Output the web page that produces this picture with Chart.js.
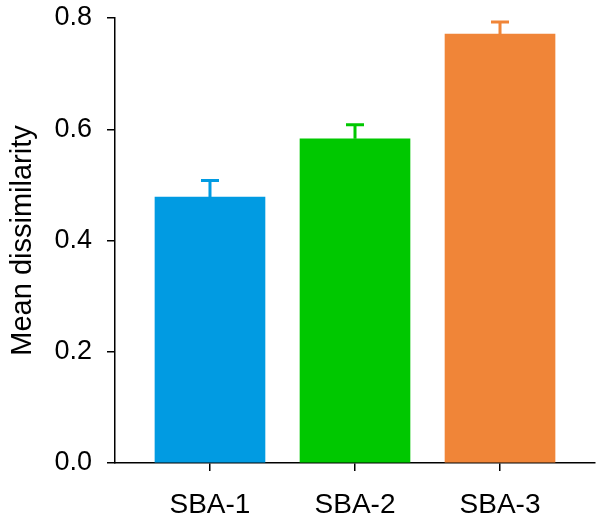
<!DOCTYPE html>
<html>
<head>
<meta charset="utf-8">
<script src="https://cdn.jsdelivr.net/npm/chart.js@4"></script>
<style>
html,body{margin:0;padding:0;background:#fff;}
#wrap{width:602px;height:520px;position:relative;}
</style>
</head>
<body>
<div id="wrap"><canvas id="c" width="602" height="520"></canvas></div>
<script>
const categories = ['SBA-1', 'SBA-2', 'SBA-3'];
const meanValues = [0.478, 0.583, 0.771];
const errorValues = [0.030, 0.025, 0.022];
const barColors = ['#019BE2', '#00C800', '#F08538'];
const yTicks = [0.0, 0.2, 0.4, 0.6, 0.8];
const yTitle = 'Mean dissimilarity';

const FONT = "'Liberation Sans', Arial, sans-serif";

const errorBarPlugin = {
  id: 'errorBars',
  afterDatasetsDraw(chart) {
    const ctx = chart.ctx;
    const xs = chart.scales.x, ys = chart.scales.y;
    ctx.save();
    meanValues.forEach((m, i) => {
      const x = xs.getPixelForValue(i + 1);
      const yb = ys.getPixelForValue(m);
      const yt = ys.getPixelForValue(m + errorValues[i]);
      ctx.strokeStyle = barColors[i];
      ctx.lineWidth = 3;
      ctx.lineCap = 'butt';
      ctx.beginPath();
      ctx.moveTo(x, yb);
      ctx.lineTo(x, yt);
      ctx.moveTo(x - 9, yt);
      ctx.lineTo(x + 9, yt);
      ctx.stroke();
    });
    ctx.restore();
  }
};

new Chart(document.getElementById('c'), {
  type: 'bar',
  data: {
    datasets: [{
      data: meanValues.map((v, i) => ({ x: i + 1, y: v })),
      backgroundColor: barColors,
      borderWidth: 0,
      barThickness: 110
    }]
  },
  options: {
    responsive: false,
    animation: false,
    devicePixelRatio: 1,
    layout: { padding: { top: 18, right: 7, left: 0, bottom: 0 } },
    plugins: { legend: { display: false }, tooltip: { enabled: false } },
    scales: {
      x: {
        type: 'linear',
        min: 0.345,
        max: 3.655,
        offset: false,
        afterFit(s) { s.height = 57; s.paddingLeft = 0; s.paddingRight = 0; },
        afterBuildTicks(s) { s.ticks = categories.map((c, i) => ({ value: i + 1 })); },
        ticks: {
          callback: (v) => categories[Math.round(v) - 1],
          font: { family: FONT, size: 28 },
          color: '#000',
          padding: 17,
          maxRotation: 0,
          autoSkip: false
        },
        grid: { display: true, offset: false, drawOnChartArea: false, drawTicks: true, tickLength: 8, color: '#000', lineWidth: 1.5 },
        border: { display: true, color: '#000', width: 1.5 }
      },
      y: {
        min: 0,
        max: 0.8,
        afterFit(s) { s.width = 115; s.paddingTop = 0; s.paddingBottom = 0; },
        afterBuildTicks(s) { s.ticks = yTicks.map(v => ({ value: v })); },
        ticks: {
          callback: (v) => Number(v).toFixed(1),
          font: { family: FONT, size: 27 },
          color: '#000',
          padding: 15
        },
        grid: { display: true, drawOnChartArea: false, drawTicks: true, tickLength: 8, color: '#000', lineWidth: 1.5 },
        border: { display: true, color: '#000', width: 1.5 },
        title: {
          display: true,
          text: yTitle,
          font: { family: FONT, size: 29 },
          color: '#000',
          padding: { top: 6, bottom: 0 }
        }
      }
    }
  },
  plugins: [errorBarPlugin]
});
</script>
</body>
</html>
